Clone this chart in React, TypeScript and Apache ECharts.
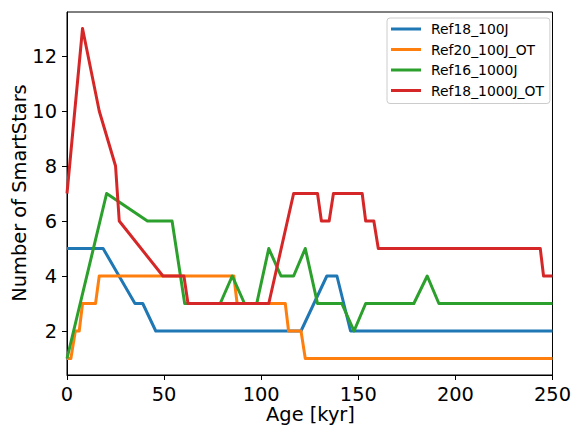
import React, { useEffect, useRef } from "react";
import * as echarts from "echarts";

const seriesNames = ["Ref18_100J", "Ref20_100J_OT", "Ref16_1000J", "Ref18_1000J_OT"];
const seriesColors = ["#1f77b4", "#ff7f0e", "#2ca02c", "#d62728"];

const ref18_100J: number[][] = [
  [0, 5], [18.6, 5], [35, 3], [39, 3], [45.7, 2], [120.5, 2], [133.8, 4], [139, 4], [146, 2], [250, 2],
];
const ref20_100J_OT: number[][] = [
  [0, 1], [2, 1], [4.3, 2], [6.3, 2], [8, 3], [14.7, 3], [16.6, 4], [85.9, 4], [87.6, 3], [112.4, 3],
  [114.1, 2], [120.5, 2], [122.7, 1], [250, 1],
];
const ref16_1000J: number[][] = [
  [0, 1], [20.4, 7], [41.4, 6], [54.1, 6], [60.6, 3], [78.9, 3], [85.1, 4], [91.4, 3], [97.7, 3],
  [103.9, 5], [110.2, 4], [116.7, 4], [122.7, 5], [129, 3], [141.5, 3], [147.8, 2], [153.8, 3],
  [178.6, 3], [185.5, 4], [191.5, 3], [250, 3],
];
const ref18_1000J_OT: number[][] = [
  [0, 7], [8, 13], [16.6, 10], [25, 8], [26.9, 6], [49.4, 4], [60.2, 4], [62.3, 3], [103.9, 3],
  [116.7, 7], [129, 7], [131, 6], [135, 6], [137.2, 7], [152, 7], [153.8, 6], [158, 6], [160.3, 5],
  [243.7, 5], [245.4, 4], [250, 4],
];
const allSeries = [ref18_100J, ref20_100J_OT, ref16_1000J, ref18_1000J_OT];

const yTicks = [2, 4, 6, 8, 10, 12];
const xLabel = "Age [kyr]";
const yLabel = "Number of SmartStars";

const FONT = "DejaVu Sans";

export default function App() {
  const ref = useRef<HTMLDivElement>(null);
  useEffect(() => {
    if (!ref.current) return;
    const chart = echarts.init(ref.current, null, { renderer: "svg" });
    chart.setOption({
      animation: false,
      backgroundColor: "#fff",
      grid: {
        left: 67, top: 12, width: 487, height: 363,
        show: true, borderColor: "#000", borderWidth: 1, backgroundColor: "transparent",
      },
      xAxis: {
        type: "value", min: 0, max: 250, interval: 50,
        axisLine: { lineStyle: { color: "#000", width: 1 } },
        axisTick: { show: true, length: 5, inside: false, lineStyle: { color: "#000" } },
        axisLabel: { color: "#000", fontSize: 19.4, fontFamily: FONT, margin: 10 },
        splitLine: { show: false },
      },
      yAxis: {
        type: "value", min: 0.4, max: 13.6,
        axisLine: { show: true, lineStyle: { color: "#000", width: 1 } },
        axisTick: { show: true, length: 5, inside: false, customValues: yTicks, lineStyle: { color: "#000" } },
        axisLabel: { color: "#000", fontSize: 19.4, fontFamily: FONT, margin: 10, customValues: yTicks },
        splitLine: { show: false },
      },
      legend: {
        left: 387, top: 18, orient: "vertical",
        backgroundColor: "#fff", borderColor: "#ccc", borderWidth: 1, borderRadius: 3,
        padding: [4, 6, 6, 4],
        itemWidth: 30, itemHeight: 3, itemGap: 6.5, icon: "rect",
        textStyle: { fontFamily: FONT, fontSize: 13.9, color: "#000", lineHeight: 14, padding: [0, 0, 0, 5] },
        data: seriesNames,
      },
      series: allSeries.map((d, i) => ({
        name: seriesNames[i],
        type: "line",
        data: d,
        symbol: "none",
        color: seriesColors[i],
        lineStyle: { width: 3, color: seriesColors[i], join: "round" },
        z: 2 + i,
      })),
      graphic: [
        {
          type: "text", x: 19, y: 193, rotation: Math.PI / 2,
          style: { text: yLabel, fontFamily: FONT, fontSize: 19.4, fill: "#000", align: "center", verticalAlign: "middle" },
        },
        {
          type: "text", x: 310.5, y: 414,
          style: { text: xLabel, fontFamily: FONT, fontSize: 19.4, fill: "#000", align: "center", verticalAlign: "middle" },
        },
      ],
    });
    return () => chart.dispose();
  }, []);
  return <div ref={ref} style={{ position: "fixed", left: 0, top: 0, width: 574, height: 425 }} />;
}
